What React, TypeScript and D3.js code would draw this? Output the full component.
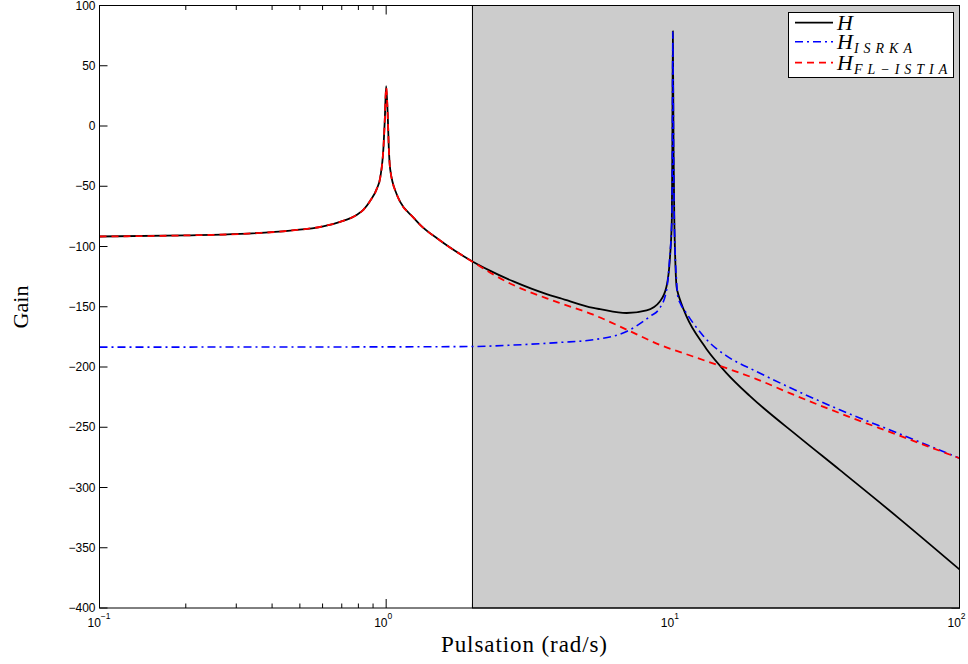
import React from "react";
import * as d3 from "d3";

// ---- Data ----
const hFreq = [0.1, 0.2, 0.31, 0.463, 0.603, 0.691, 0.791, 0.834, 0.88, 0.928, 0.953, 0.979, 0.989, 1.0, 1.014, 1.021, 1.033, 1.09, 1.119, 1.245, 1.314, 1.542, 1.627, 2.0, 2.3, 2.778, 3.63, 4.04, 5.28, 5.57, 6.9, 8.1, 9.01, 9.51, 9.76, 9.92, 9.96, 10.0, 10.06, 10.12, 10.18, 10.3, 10.4, 10.66, 11.16, 12.75, 13.1, 15.39, 18.55, 27.5, 38.2, 61.8, 100];
const hGain = [-91.7, -90.8, -89.6, -86.8, -83.2, -79.5, -73.6, -69.4, -62, -52, -43, -17, 5, 33, 5, -17, -36, -57, -63, -76, -82, -95, -99, -112.4, -120, -129, -139.5, -142.8, -151, -152, -155.2, -153, -145.6, -133, -111, -77.7, -22, 78.7, -22, -78, -105, -133, -138, -146, -158, -181, -185, -205, -224, -258, -285.4, -326, -368];

const isrkaFreq = [0.1, 1.0, 2.0, 2.778, 3.63, 4.04, 5.28, 6.9, 8.32, 9.01, 9.51, 9.76, 9.92, 9.96, 10.0, 10.06, 10.12, 10.18, 10.3, 10.4, 10.66, 11.16, 11.77, 12.75, 13.46, 15.39, 19.57, 25.57, 38.2, 61.8, 100];
const isrkaGain = [-183.5, -183.3, -183, -181.8, -180.3, -179.6, -177.4, -170.5, -158, -151, -136, -108, -77, -22, 78, -22, -78, -103, -128, -141, -148, -155.4, -163.5, -174, -180, -190.8, -203.7, -217, -235.5, -255.5, -275.7];

const flFreq = [0.1, 0.2, 0.31, 0.463, 0.603, 0.691, 0.791, 0.834, 0.88, 0.928, 0.953, 0.979, 0.989, 1.0, 1.014, 1.021, 1.033, 1.09, 1.119, 1.245, 1.314, 1.542, 1.627, 2.0, 2.3, 2.778, 3.63, 4.04, 5.28, 6.9, 9.01, 11.77, 15.39, 19.57, 25.57, 38.2, 61.8, 100];
const flGain = [-91.7, -90.8, -89.6, -86.8, -83.2, -79.5, -73.6, -69.4, -62, -52, -43, -17, 5, 32, 5, -17, -36, -57, -63, -76, -82, -95, -99, -112.6, -121.5, -132, -143, -147, -156.6, -169, -181.6, -191.3, -201, -210, -221.7, -238.3, -257, -275.7];

const xDecades = [0.1, 1, 10, 100];
const xDecadeExp = ["\u22121", "0", "1", "2"];
const yTicks = [-400, -350, -300, -250, -200, -150, -100, -50, 0, 50, 100];
const shadeRange = [2, 100];

const legendLabels = [
  { base: "H", sub: "" },
  { base: "H", sub: "ISRKA" },
  { base: "H", sub: "FL\u2212ISTIA" },
];

// ---- Layout ----
const W = 968, H = 664;
const L = 99.5, R = 959.5, T = 5.5, B = 608;

export default function App() {
  const x = d3.scaleLog().domain([0.1, 100]).range([L, R]);
  const y = d3.scaleLinear().domain([-400, 100]).range([B, T]);
  const line = d3
    .line<[number, number]>()
    .x((d) => x(d[0]))
    .y((d) => y(d[1]))
    .curve(d3.curveMonotoneX);
  const zip = (a: number[], b: number[]) => a.map((v, i) => [v, b[i]] as [number, number]);

  const minor: number[] = [];
  [0.1, 1, 10].forEach((d) => {
    for (let k = 2; k <= 9; k++) minor.push(d * k);
  });

  const series = [
    { data: zip(hFreq, hGain), color: "#000000", dash: "none", w: 1.8 },
    { data: zip(isrkaFreq, isrkaGain), color: "#0000ff", dash: "8,4,2,4", w: 1.6 },
    { data: zip(flFreq, flGain), color: "#ff0000", dash: "7,5", w: 1.8 },
  ];

  const legX = 788.5, legY = 12.5, legW = 165, legH = 65;
  const legRows = [22.7, 41.7, 62.7];
  const tickFont = "'Liberation Sans', Arial, Helvetica, sans-serif";
  const serif = "'Liberation Serif', 'Times New Roman', serif";

  return (
    <svg width={W} height={H} style={{ position: "fixed", left: 0, top: 0, background: "#fff" }}>
      <defs>
        <clipPath id="plot">
          <rect x={L} y={T} width={R - L} height={B - T} />
        </clipPath>
      </defs>
      <rect x={0} y={0} width={W} height={H} fill="#fff" />
      {/* ticks */}
      <g stroke="#000" strokeWidth={1}>
        {yTicks.map((t) => (
          <g key={"y" + t}>
            <line x1={L} x2={L + 8} y1={y(t)} y2={y(t)} />
            <line x1={R} x2={R - 8} y1={y(t)} y2={y(t)} />
          </g>
        ))}
        {xDecades.map((d) => (
          <g key={"xd" + d}>
            <line x1={x(d)} x2={x(d)} y1={B} y2={B - 9} />
            <line x1={x(d)} x2={x(d)} y1={T} y2={T + 9} />
          </g>
        ))}
        {minor.map((d) => (
          <g key={"xm" + d}>
            <line x1={x(d)} x2={x(d)} y1={B} y2={B - 4.5} />
            <line x1={x(d)} x2={x(d)} y1={T} y2={T + 4.5} />
          </g>
        ))}
      </g>
      {/* shaded region */}
      <rect
        x={x(shadeRange[0])}
        y={T}
        width={x(shadeRange[1]) - x(shadeRange[0])}
        height={B - T}
        fill="#cccccc"
        stroke="#000"
        strokeWidth={1}
      />
      {/* curves */}
      <g clipPath="url(#plot)" fill="none">
        {series.map((s, i) => (
          <path
            key={i}
            d={line(s.data) || ""}
            stroke={s.color}
            strokeWidth={s.w}
            strokeDasharray={s.dash}
            strokeLinejoin="round"
          />
        ))}
      </g>
      {/* frame */}
      <rect x={L} y={T} width={R - L} height={B - T} fill="none" stroke="#000" strokeWidth={1} />
      {/* y tick labels */}
      <g fontFamily={tickFont} fontSize={12} fill="#000" textAnchor="end">
        {yTicks.map((t) => (
          <text key={"yl" + t} x={L - 4} y={y(t) + 4}>
            {t < 0 ? "\u2212" + Math.abs(t) : String(t)}
          </text>
        ))}
      </g>
      {/* x tick labels */}
      <g fontFamily={tickFont} fill="#000">
        {xDecades.map((d, i) => (
          <text key={"xl" + d} x={x(d) - 12} y={627} fontSize={12}>
            10
            <tspan dy={-8} fontSize={8.5}>
              {xDecadeExp[i]}
            </tspan>
          </text>
        ))}
      </g>
      {/* axis labels */}
      <text
        x={524}
        y={652}
        textAnchor="middle"
        fontFamily={serif}
        fontSize={23}
        fill="#000"
        textLength={166}
        lengthAdjust="spacing"
      >
        Pulsation (rad/s)
      </text>
      <text
        transform={`translate(28,307) rotate(-90)`}
        textAnchor="middle"
        fontFamily={serif}
        fontSize={22}
        fill="#000"
      >
        Gain
      </text>
      {/* legend */}
      <rect x={legX} y={legY} width={legW} height={legH} fill="#fff" stroke="#000" strokeWidth={1} />
      {series.map((s, i) => (
        <g key={"leg" + i}>
          <line
            x1={795}
            x2={833}
            y1={legRows[i]}
            y2={legRows[i]}
            stroke={s.color}
            strokeWidth={s.w}
            strokeDasharray={s.dash}
          />
          <text x={837} y={legRows[i] + 7.5} fontFamily={serif} fontStyle="italic" fontSize={22} fill="#000">
            {legendLabels[i].base}
            {legendLabels[i].sub && (
              <tspan dx={1} dy={3.5} fontSize={14} letterSpacing={5}>
                {legendLabels[i].sub}
              </tspan>
            )}
          </text>
        </g>
      ))}
    </svg>
  );
}
